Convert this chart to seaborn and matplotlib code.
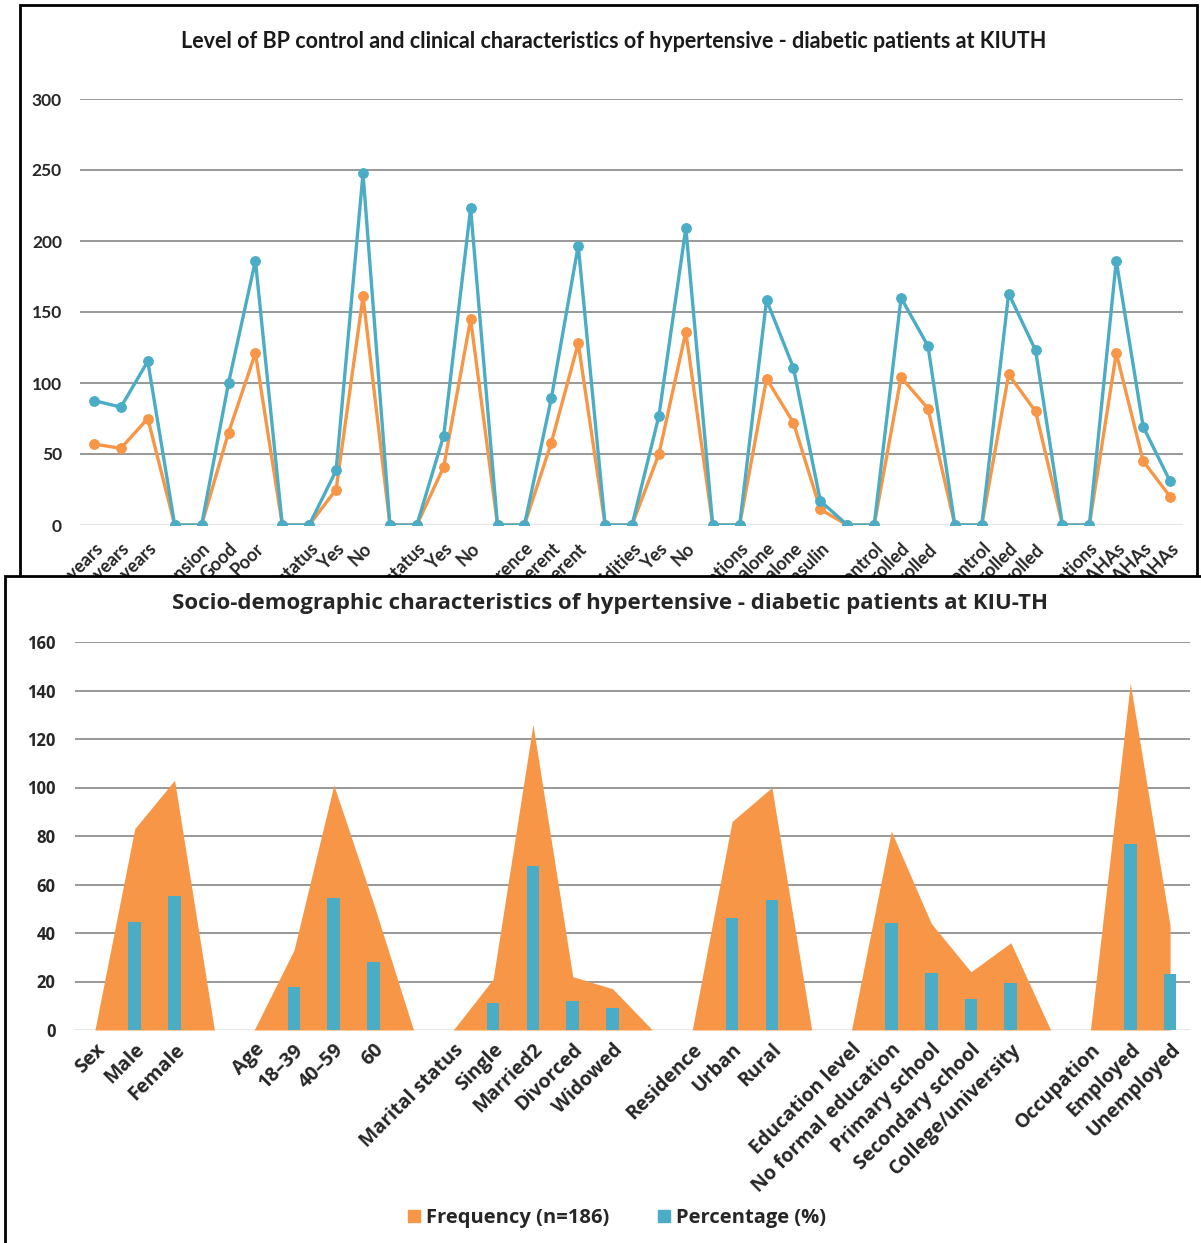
import numpy as np
import matplotlib
matplotlib.use("Agg")
import matplotlib.pyplot as plt
from matplotlib.patches import Rectangle
from matplotlib.lines import Line2D
import seaborn as sns

# ---------------- data: BP control / clinical characteristics ----------------
bp_labels = [
    "30–49 years", "50–59 years", "60+ years", "",
    "Knowledge of hypertension", "Good", "Poor", "",
    "Smoking status", "Yes", "No", "",
    "Alcohol status", "Yes", "No", "",
    "Medication adherence", "Adherent", "Non-adherent", "",
    "Comorbidities", "Yes", "No", "",
    "Diabetes medications", "OHA alone", "Insulin alone", "OHA + insulin", "",
    "Glycaemic control", "Controlled", "Uncontrolled", "",
    "BP control", "Controlled", "Uncontrolled", "",
    "Antihypertensive medications", "Single AHAs", "Dual AHAs", "Triple AHAs",
]
bp_frequency = [57, 54, 75, 0,
                0, 65, 121, 0,
                0, 25, 161, 0,
                0, 41, 145, 0,
                0, 58, 128, 0,
                0, 50, 136, 0,
                0, 103, 72, 11, 0,
                0, 104, 82, 0,
                0, 106, 80, 0,
                0, 121, 45, 20]
bp_percentage = [30.6, 29.0, 40.3, 0,
                 0, 34.9, 65.1, 0,
                 0, 13.4, 86.6, 0,
                 0, 22.0, 78.0, 0,
                 0, 31.2, 68.8, 0,
                 0, 26.9, 73.1, 0,
                 0, 55.4, 38.7, 5.9, 0,
                 0, 55.9, 44.1, 0,
                 0, 57.0, 43.0, 0,
                 0, 65.1, 24.2, 10.8]

# ---------------- data: socio-demographic characteristics ----------------
sd_labels = [
    "Sex", "Male", "Female", "",
    "Age", "18–39", "40–59", "60", "",
    "Marital status", "Single", "Married2", "Divorced", "Widowed", "",
    "Residence", "Urban", "Rural", "",
    "Education level", "No formal education", "Primary school",
    "Secondary school", "College/university", "",
    "Occupation", "Employed", "Unemployed",
]
sd_frequency = [0, 83, 103, 0,
                0, 33, 101, 52, 0,
                0, 21, 126, 22, 17, 0,
                0, 86, 100, 0,
                0, 82, 44, 24, 36, 0,
                0, 143, 43]
sd_percentage = [0, 44.6, 55.4, 0,
                 0, 17.7, 54.3, 28.0, 0,
                 0, 11.3, 67.7, 11.8, 9.1, 0,
                 0, 46.2, 53.8, 0,
                 0, 44.1, 23.7, 12.9, 19.4, 0,
                 0, 76.9, 23.1]

ORANGE = "#F79646"
BLUE = "#4BACC6"
GRID = "#868686"
TOP_FONT = ["Lato", "DejaVu Sans"]
LOW_FONT = ["Open Sans", "DejaVu Sans"]

sns.set_theme(style="white")
plt.rcParams["font.family"] = TOP_FONT
plt.rcParams["font.weight"] = "bold"
plt.rcParams["axes.labelweight"] = "bold"

W, H = 1201, 1243
fig = plt.figure(figsize=(W / 100, H / 100), dpi=100)
fig.patch.set_facecolor("white")


def fx(px):
    return px / W


def fy(py):
    return 1 - py / H


# ---------------- upper panel ----------------
fig.add_artist(Rectangle((fx(20), fy(640)), fx(1197 - 20), (640 - 5) / H,
                         transform=fig.transFigure, fill=False,
                         ec="black", lw=2, zorder=0))

ax1 = fig.add_axes([fx(80), fy(525), fx(1183 - 80), (525 - 99) / H], zorder=1)
ax1.set_facecolor("none")
pos1 = np.arange(len(bp_labels))
freq1 = np.array(bp_frequency, dtype=float)
stack1 = freq1 + np.array(bp_percentage, dtype=float)

sns.lineplot(x=pos1, y=freq1, ax=ax1, color=ORANGE, lw=2.4, marker="o",
             markersize=7, markeredgecolor=ORANGE, sort=False)
sns.lineplot(x=pos1, y=stack1, ax=ax1, color=BLUE, lw=2.4, marker="o",
             markersize=7, markeredgecolor=BLUE, sort=False)

ax1.set_xlim(-0.52, len(bp_labels) - 0.52)
ax1.set_ylim(0, 300)
ax1.set_yticks(range(0, 301, 50))
ax1.grid(axis="y", color=GRID, lw=1.2)
ax1.yaxis.get_gridlines()[0].set_color("#e0e0e0")
ax1.set_xticks(pos1)
ax1.set_xticklabels(bp_labels, rotation=45, ha="right", rotation_mode="anchor",
                    fontsize=13, fontweight="bold")
ax1.tick_params(axis="x", length=0, pad=11)
ax1.tick_params(axis="y", length=0, pad=13, labelsize=12.5)
for t in ax1.get_yticklabels():
    t.set_fontweight("bold")
for s in ax1.spines.values():
    s.set_visible(False)
ax1.set_xlabel("")
ax1.set_ylabel("")

fig.text(fx(614), fy(42),
         "Level of BP control and clinical characteristics of hypertensive - diabetic patients at KIUTH",
         ha="center", va="center", fontsize=15.5, fontweight="bold",
         color="#1a1a1a", zorder=5)

# ---------------- lower panel ----------------
fig.add_artist(Rectangle((fx(5), fy(1280)), fx(1240 - 5), (1280 - 576) / H,
                         transform=fig.transFigure, fc="white",
                         ec="black", lw=2, zorder=2))

ax2 = fig.add_axes([fx(75), fy(1030), fx(1190 - 75), (1030 - 642) / H], zorder=3)
ax2.set_facecolor("none")
pos2 = np.arange(len(sd_labels))
ax2.fill_between(pos2, sd_frequency, 0, color=ORANGE, lw=0, zorder=2)
sns.barplot(x=pos2, y=sd_percentage, ax=ax2, native_scale=True, color=BLUE,
            saturation=1, width=0.32, errorbar=None, linewidth=0,
            edgecolor=BLUE, zorder=3)

ax2.set_xlim(-0.5, len(sd_labels) - 0.5)
ax2.set_ylim(0, 160)
ax2.set_yticks(range(0, 161, 20))
ax2.set_axisbelow(True)
ax2.grid(axis="y", color=GRID, lw=1.2, zorder=0)
ax2.yaxis.get_gridlines()[0].set_color("#e0e0e0")
ax2.set_xticks(pos2)
ax2.set_xticklabels(sd_labels, rotation=45, ha="right", rotation_mode="anchor",
                    fontsize=14, fontweight="bold", family=LOW_FONT)
ax2.tick_params(axis="x", length=0, pad=7)
ax2.tick_params(axis="y", length=0, pad=14)
for t in ax2.get_yticklabels():
    t.set_fontweight("bold")
    t.set_family(LOW_FONT)
    t.set_fontsize(12)
for s in ax2.spines.values():
    s.set_visible(False)
ax2.set_xlabel("")
ax2.set_ylabel("")

fig.text(fx(610), fy(604),
         "Socio-demographic characteristics of hypertensive - diabetic patients at KIU-TH",
         ha="center", va="center", fontsize=16, fontweight="bold",
         family=LOW_FONT, color="#262626", zorder=5)

handles = [Line2D([], [], marker="s", ls="none", color=ORANGE, markersize=9),
           Line2D([], [], marker="s", ls="none", color=BLUE, markersize=9)]
leg = fig.legend(handles, ["Frequency (n=186)", "Percentage (%)"],
                 loc="center", bbox_to_anchor=(fx(615), fy(1218)), ncol=2,
                 frameon=False,
                 prop={"size": 14.5, "weight": "bold", "family": LOW_FONT},
                 handletextpad=0.1, columnspacing=2.2, handlelength=1.0)
leg.set_zorder(6)

fig.savefig("out.png", dpi=100, facecolor="white")
